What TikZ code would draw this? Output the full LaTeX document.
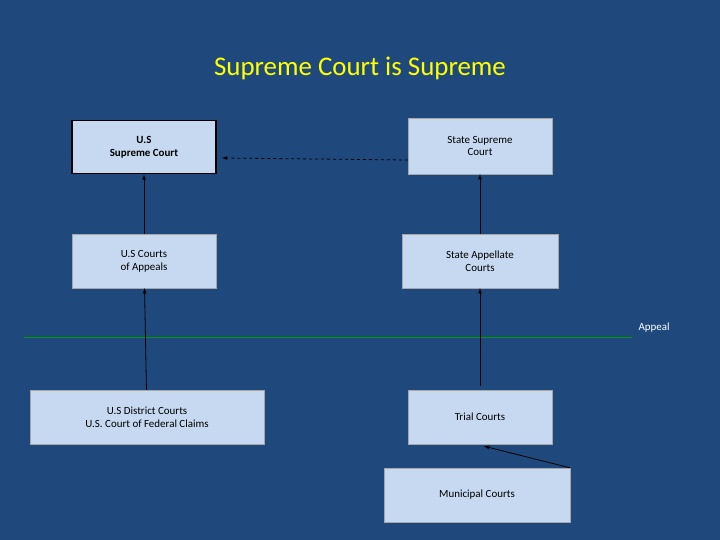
\documentclass[tikz,border=0pt]{standalone}
\usepackage{fontspec}
\setmainfont{Carlito}
\definecolor{bg}{HTML}{1F497D}
\definecolor{boxfill}{HTML}{C6D9F1}
\begin{document}
\begin{tikzpicture}[x=1bp,y=-1bp,
  court/.style={draw=gray!70,fill=boxfill,inner sep=0pt,align=center,font=\fontsize{11}{13}\selectfont},
  arr/.style={-latex,black,line width=0.8pt}]
\fill[bg] (0,0) rectangle (720,540);
\useasboundingbox (0,0) rectangle (720,540);
\node[text={rgb,255:red,255;green,255;blue,0}, font=\fontsize{27}{30}\selectfont] (title) at (360,68) {Supreme Court is Supreme};
\node[court,draw=black,line width=2pt,minimum width=144bp,minimum height=53bp,font=\fontsize{11}{13}\selectfont\bfseries] (ussc) at (144,147) {U.S\\Supreme Court};
\node[court,minimum width=144bp,minimum height=56bp] (ssc) at (480,146) {State Supreme\\Court};
\node[court,minimum width=144bp,minimum height=54bp] (usca) at (144,261) {U.S Courts\\of Appeals};
\node[court,minimum width=156bp,minimum height=54bp] (sac) at (480,261) {State Appellate\\Courts};
\node[court,minimum width=234bp,minimum height=54bp] (usdc) at (147,417) {U.S District Courts\\U.S. Court of Federal Claims};
\node[court,minimum width=144bp,minimum height=54bp] (tc) at (480,417) {Trial Courts};
\node[court,minimum width=186bp,minimum height=54bp] (mc) at (477,495) {Municipal Courts};
\coordinate (gl) at (24,337);
\coordinate (gr) at (632,337);
\draw[green!60!black,line width=0.8pt] (gl) -- (gr);
\node[white,font=\fontsize{11}{13}\selectfont,anchor=west] (appeal) at (635,328) {Appeal};
\draw[arr] (usca) -- (ussc);
\draw[arr] (sac) -- (ssc);
\draw[arr] (usdc) -- (usca);
\draw[arr] ([yshift=4bp]tc.north) -- (sac);
\draw[arr,dashed] ([yshift=-14bp]ssc.west) -- ([xshift=5bp,yshift=-11bp]ussc.east);
\draw[arr] (mc.north east) -- ([xshift=4bp,yshift=-2bp]tc.south);
\end{tikzpicture}
\end{document}
